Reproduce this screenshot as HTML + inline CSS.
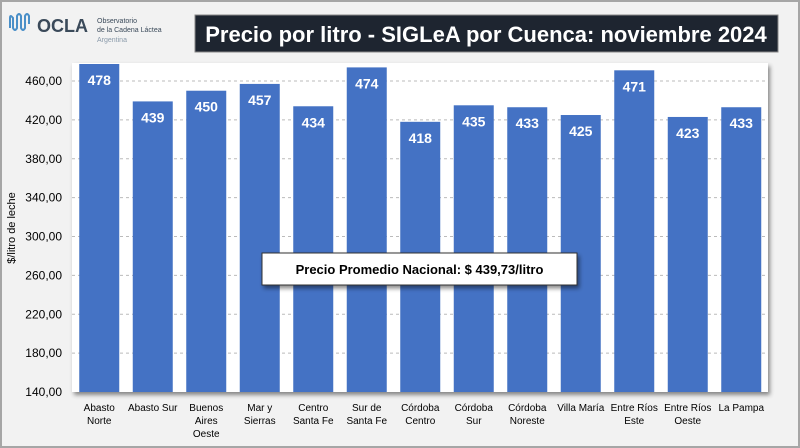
<!DOCTYPE html>
<html><head><meta charset="utf-8"><style>
body{margin:0;width:800px;height:448px;overflow:hidden;background:#fff;font-family:"Liberation Sans",sans-serif}
#page{position:absolute;left:0;top:0;width:796px;height:444px;border:2px solid #a6a6a6;background:#f2f2f2}
</style></head><body>
<div id="page"></div>
<svg width="800" height="448" style="position:absolute;left:0;top:0">
<defs><filter id="sh" x="-5%" y="-5%" width="115%" height="130%"><feDropShadow dx="2" dy="3" stdDeviation="2" flood-color="#000" flood-opacity="0.45"/></filter></defs>
<g>
<path d="M10 28 v-10 q0 -4 3 0 v10 q2 4 4 0 v-12 q2 -4 4 0 v12 q2 4 4 0 v-12 q2 -4 4 0 v8" fill="none" stroke="#4a8fc8" stroke-width="2"/>
<text x="37" y="32" font-size="18" font-weight="bold" fill="#3b4a5a">OCLA</text>
<text x="97" y="23" font-size="7" fill="#3b4a5a">Observatorio</text>
<text x="97" y="32" font-size="7" fill="#3b4a5a">de la Cadena Láctea</text>
<text x="97" y="42" font-size="7" fill="#8a9aaa">Argentina</text>
</g>
<rect x="195" y="15" width="583" height="37" fill="#1e2530" stroke="#888"/>
<text x="486" y="42" text-anchor="middle" font-size="22" font-weight="bold" fill="#fff">Precio por litro - SIGLeA por Cuenca: noviembre 2024</text>
<rect x="72" y="63" width="696" height="329" fill="#fff" filter="url(#sh)"/>
<g id="grid"></g><g id="bars"></g><g id="ticks"></g><g id="cats"></g>
<text transform="translate(15,228) rotate(-90)" text-anchor="middle" font-size="11" fill="#000">$/litro de leche</text>
<g>
<rect x="262" y="253" width="315" height="32" fill="#fff" stroke="#333" filter="url(#sh)"/>
<text x="419.5" y="274" text-anchor="middle" font-size="13" font-weight="bold" fill="#000">Precio Promedio Nacional: $ 439,73/litro</text>
</g>
</svg>
<script>
const categories=[["Abasto","Norte"],["Abasto Sur"],["Buenos","Aires","Oeste"],["Mar y","Sierras"],["Centro","Santa Fe"],["Sur de","Santa Fe"],["Córdoba","Centro"],["Córdoba","Sur"],["Córdoba","Noreste"],["Villa María"],["Entre Ríos","Este"],["Entre Ríos","Oeste"],["La Pampa"]];
const values=[478,439,450,457,434,474,418,435,433,425,471,423,433];
const yTicks=[140,180,220,260,300,340,380,420,460];
const NS="http://www.w3.org/2000/svg";
const x0=72,step=53.5,bw=40,yBase=392,pxPer=311/320;
const y=v=>yBase-(v-140)*pxPer;
const mk=(t,a,p)=>{const e=document.createElementNS(NS,t);for(const k in a)e.setAttribute(k,a[k]);p.appendChild(e);return e;};
const G=document.getElementById('grid'),B=document.getElementById('bars'),T=document.getElementById('ticks'),C=document.getElementById('cats');
yTicks.forEach(v=>{
 if(v>140){const l=mk('line',{x1:x0,x2:768,y1:y(v),y2:y(v),stroke:'#bbb','stroke-dasharray':'3,3'},G);
 
 }
 const t=mk('text',{x:62,y:y(v)+4,'text-anchor':'end','font-size':12,fill:'#000'},T);
 t.textContent=v.toFixed(2).replace('.',',');
 
 
});
values.forEach((v,i)=>{
 const cx=x0+step*(i+0.5)+0.5, top=Math.max(y(v),64);
 const r=mk('rect',{x:cx-bw/2,y:top,width:bw,height:yBase-top,fill:'#4472c4'},B);
 
 
 const t=mk('text',{x:cx,y:top+21,'text-anchor':'middle','font-size':14,'font-weight':'bold',fill:'#fff'},B);
 t.textContent=v;
 
 
 categories[i].forEach((s,j)=>{
  const c=mk('text',{x:cx,y:411+j*13,'text-anchor':'middle','font-size':10,fill:'#000'},C);
  c.textContent=s;
  
  
 });
});
</script>
</body></html>
